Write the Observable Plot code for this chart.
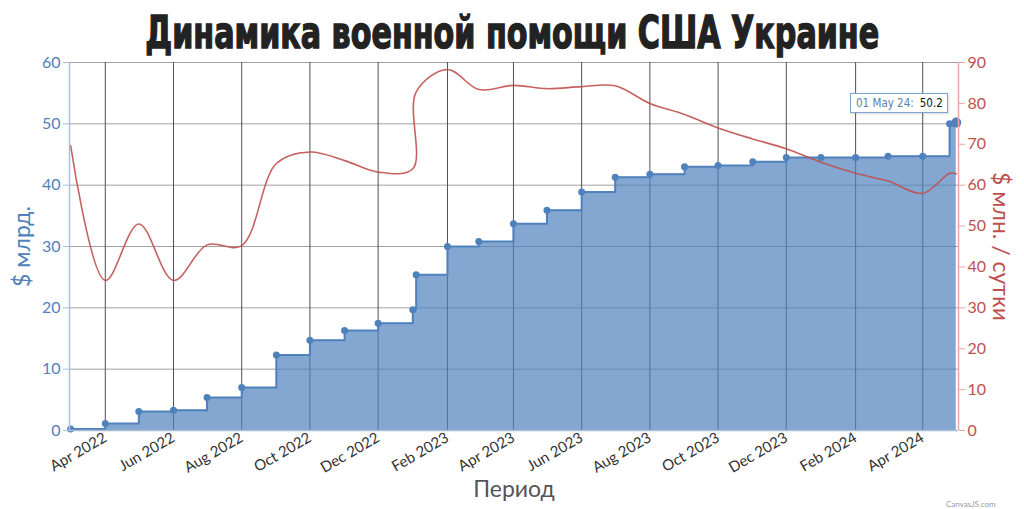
<!DOCTYPE html>
<html>
<head>
<meta charset="utf-8">
<script src="https://cdn.jsdelivr.net/npm/d3@7"></script>
<script src="https://cdn.jsdelivr.net/npm/@observablehq/plot@0.6"></script>
<style>
  body { margin: 0; background: #fff; }
  #wrap { position: relative; width: 1024px; height: 509px; overflow: hidden; background: #fff; }
  #title { position: absolute; left: 0; top: 7px; width: 1024px; text-align: center;
    font-family: "Liberation Sans Narrow", "DejaVu Sans Condensed", "DejaVu Sans", sans-serif; font-weight: bold;
    font-size: 45px; line-height: 52px; color: #222; -webkit-text-stroke: 1.4px #222;
    transform: scaleX(0.745); transform-origin: 513px 50%; white-space: nowrap; }
  #tip { position: absolute; left: 850px; top: 93px; width: 98px; height: 20px; box-sizing: border-box;
    border: 1px solid #7fa3cf; background: #fff; font-family: "DejaVu Sans Condensed", "DejaVu Sans", sans-serif; font-size: 11.5px;
    line-height: 18px; padding-left: 5px; box-shadow: 1px 1px 2px rgba(0,0,0,0.15); white-space: nowrap; }
  #tip .k { color: #5a7fad; }
  #tip .v { color: #111; margin-left: 6px; }
  #credit { position: absolute; left: 946px; top: 499px; font-family: Lato, sans-serif; font-size: 8px; color: #999; }
</style>
</head>
<body>
<div id="wrap">
  <div id="chart"></div>
  <div id="title">Динамика военной помощи США Украине</div>
  <div id="tip"><span class="k">01 May 24:</span><span class="v">50.2</span></div>
  <div id="credit">CanvasJS.com</div>
</div>
<script>
// Dates of the data points
const dates = [
  "2022-03-01", "2022-04-01", "2022-05-01", "2022-06-01", "2022-07-01", "2022-08-01",
  "2022-09-01", "2022-10-01", "2022-11-01", "2022-12-01", "2023-01-01", "2023-01-04",
  "2023-02-01", "2023-03-01", "2023-04-01", "2023-05-01", "2023-06-01", "2023-07-01",
  "2023-08-01", "2023-09-01", "2023-10-01", "2023-11-01", "2023-12-01", "2024-01-01",
  "2024-02-01", "2024-03-01", "2024-04-01", "2024-04-25", "2024-05-01"
];
// Cumulative aid, $ bn (left axis)
const cumulative = [
  0.25, 1.15, 3.1, 3.3, 5.4, 7.0,
  12.3, 14.7, 16.3, 17.5, 19.7, 25.4,
  30.0, 30.8, 33.7, 35.9, 38.9, 41.3,
  41.8, 43.0, 43.2, 43.8, 44.5, 44.5,
  44.5, 44.7, 44.7, 50.0, 50.2
];
// Aid per day, $ mln / day (right axis)
const perDay = [
  69.7, 36.7, 50.5, 36.7, 45.4, 45.2,
  65.3, 68.1, 66.0, 63.2, 64.0, 82.8,
  88.3, 83.4, 84.4, 83.6, 84.1, 84.3,
  80.0, 77.3, 74.0, 71.3, 68.9, 65.6,
  62.9, 61.0, 58.0, 62.9, 62.8
];
const xTickDates = [
  "2022-04-01", "2022-06-01", "2022-08-01", "2022-10-01", "2022-12-01", "2023-02-01",
  "2023-04-01", "2023-06-01", "2023-08-01", "2023-10-01", "2023-12-01", "2024-02-01", "2024-04-01"
];
const leftTicks = [0, 10, 20, 30, 40, 50, 60];
const rightTicks = [0, 10, 20, 30, 40, 50, 60, 70, 80, 90];
const xDomain = ["2022-02-28", "2024-05-03"];

const rows = dates.map((d, i) => ({ date: new Date(d), total: cumulative[i], rate: perDay[i] }));
const xTicks = xTickDates.map(d => new Date(d));
const x0 = new Date(xDomain[0]), x1 = new Date(xDomain[1]);
const k = 60 / 90; // right axis units -> left axis units

const blue = "#4f81bc", red = "#c0504e";
const fmt = d3.utcFormat("%b %Y");

const chart = Plot.plot({
  width: 1024,
  height: 509,
  marginLeft: 69,
  marginRight: 66,
  marginTop: 62,
  marginBottom: 79,
  style: { fontFamily: "Lato, sans-serif", background: "transparent", overflow: "visible" },
  x: { type: "utc", domain: [x0, x1] },
  y: { domain: [0, 60] },
  marks: [
    Plot.gridY(leftTicks, { stroke: "#a0a0a0", strokeOpacity: 1 }),
    Plot.gridX(xTicks, { stroke: "#505050", strokeOpacity: 1 }),
    Plot.areaY(rows, { x: "date", y: "total", curve: "step-after", fill: blue, fillOpacity: 0.7 }),
    Plot.lineY(rows, { x: "date", y: "total", curve: "step-after", stroke: blue, strokeWidth: 2 }),
    Plot.dot(rows, { x: "date", y: "total", r: 3.5, fill: blue }),
    Plot.dot(rows.slice(-1), { x: "date", y: "total", r: 5, fill: blue }),
    Plot.line(rows, { x: "date", y: d => d.rate * k, curve: "catmull-rom", stroke: red, strokeWidth: 1.6, strokeOpacity: 0.9 }),
    Plot.ruleX([x0], { stroke: "#a9c1df", strokeWidth: 1.5 }),
    Plot.ruleX([x1], { stroke: "#e8a8a7", strokeWidth: 1.5 }),
    Plot.ruleY([0], { stroke: "#a9bcd4", strokeWidth: 1.5 }),
    Plot.axisY(leftTicks, { anchor: "left", tickSize: 6, tickPadding: 3, fontSize: 16, color: blue, stroke: "#a9c1df", label: null }),
    Plot.axisY(rightTicks.map(v => v * k), { anchor: "right", tickSize: 6, tickPadding: 3, fontSize: 16, color: red, stroke: "#e8a8a7", tickFormat: v => String(Math.round(v / k)), label: null }),
    Plot.axisX(xTicks, { anchor: "bottom", tickRotate: -30, tickSize: 0, tickPadding: 6, fontSize: 15, color: "#333", tickFormat: fmt, label: null }),
    Plot.text(["$ млрд."], { frameAnchor: "left", dx: -47, rotate: -90, textAnchor: "middle", fill: blue, fontSize: 23 }),
    Plot.text(["$ млн. / сутки"], { frameAnchor: "right", dx: 42, rotate: 90, textAnchor: "middle", fill: red, fontSize: 23 }),
    Plot.text(["Период"], { frameAnchor: "bottom", dy: 66, fill: "#555", fontSize: 23 })
  ]
});
document.getElementById("chart").appendChild(chart);
</script>
</body>
</html>
